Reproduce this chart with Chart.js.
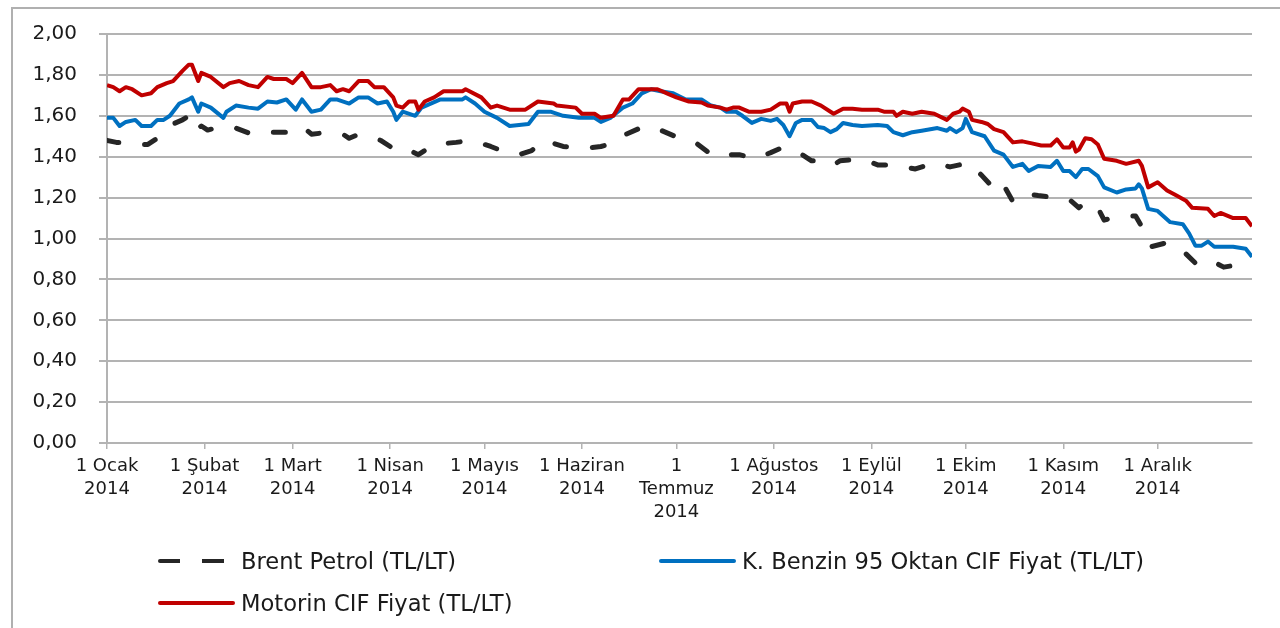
<!DOCTYPE html>
<html>
<head>
<meta charset="utf-8">
<script src="https://cdn.jsdelivr.net/npm/chart.js@4.4.1/dist/chart.umd.min.js"></script>
<style>
  html, body { margin: 0; padding: 0; background: #fff; }
  #wrap { position: relative; width: 1280px; height: 628px; overflow: hidden; }
  #frame { position: absolute; left: 11px; top: 7px; width: 1400px; height: 800px;
           border-left: 2px solid #b0b0b0; border-top: 2px solid #b0b0b0; }
  #chartBox { position: absolute; left: 0; top: 0; width: 1280px; height: 628px; }
  .legend-item { position: absolute; display: flex; align-items: center; height: 26px;
                 font: 22.6px "DejaVu Sans", sans-serif; color: #1a1a1a; white-space: nowrap; }
  .legend-line { width: 77px; height: 4px; margin-right: 6px; border-radius: 2px; }
</style>
</head>
<body>
<div id="wrap">
  <div id="frame"></div>
  <div id="chartBox"><canvas id="fuelChart"></canvas></div>
  <div id="legend"></div>
</div>
<script>
document.addEventListener("DOMContentLoaded", () => {

    // Data (day of year 2014, value TL/LT)
    // ----------------------------------------------
    const monthDays   = [0, 31, 59, 90, 120, 151, 181, 212, 243, 273, 304, 334];
    const monthLabels = [
        ['1 Ocak', '2014'], ['1 Şubat', '2014'], ['1 Mart', '2014'], ['1 Nisan', '2014'],
        ['1 Mayıs', '2014'], ['1 Haziran', '2014'], ['1', 'Temmuz', '2014'], ['1 Ağustos', '2014'],
        ['1 Eylül', '2014'], ['1 Ekim', '2014'], ['1 Kasım', '2014'], ['1 Aralık', '2014']
    ];

    const brentDays   = [0, 3, 6, 9, 13, 17, 21, 24, 26, 28, 30, 32, 37, 41, 46, 52, 57, 62, 65, 71, 75, 77, 80, 87, 91,
                         92, 95, 99, 104, 111, 116, 122, 127, 131, 135, 139, 145, 151, 157, 162, 165, 171, 176, 182, 187,
                         193, 199, 201, 206, 211, 214, 216, 220, 224, 229, 231, 233, 240, 245, 250, 257, 263, 268, 274, 278,
                         281, 284, 288, 292, 296, 301, 306, 309, 311, 315, 317, 322, 327, 330, 332, 337, 342, 346, 350, 355, 359];
    const brentValues = [1.48, 1.47, 1.47, 1.46, 1.46, 1.50, 1.56, 1.58, 1.60, 1.53, 1.55, 1.53, 1.55, 1.54, 1.51, 1.52, 1.52, 1.55, 1.51, 1.52, 1.51, 1.49, 1.51, 1.48, 1.44,
                         1.45, 1.44, 1.41, 1.46, 1.47, 1.48, 1.45, 1.42, 1.41, 1.43, 1.48, 1.45, 1.44, 1.45, 1.47, 1.51, 1.55, 1.53, 1.49, 1.47,
                         1.40, 1.41, 1.41, 1.39, 1.42, 1.44, 1.42, 1.42, 1.38, 1.38, 1.36, 1.38, 1.39, 1.36, 1.36, 1.34, 1.37, 1.35, 1.37, 1.31,
                         1.26, 1.29, 1.18, 1.22, 1.21, 1.20, 1.19, 1.15, 1.18, 1.15, 1.09, 1.11, 1.11, 1.03, 0.96, 0.98, 0.94, 0.88, 0.90, 0.86, 0.87];

    const benzinDays   = [0, 2, 4, 6, 9, 11, 14, 16, 18, 20, 23, 26, 27, 29, 30, 33, 37, 38, 41, 45, 48, 51, 54, 57, 60, 62, 65, 68, 71, 73, 77, 80, 83, 86, 89, 91, 92,
                          94, 98, 100, 106, 113, 114, 117, 120, 124, 128, 134, 137, 141, 145, 150, 155, 157, 160, 164, 167, 170, 173, 176, 180, 184,
                          189, 192, 195, 197, 200, 202, 205, 208, 211, 213, 215, 217, 219, 221, 224, 226, 228, 230, 232, 234, 237, 240, 245, 248, 250,
                          253, 256, 259, 264, 267, 268, 270, 272, 273, 275, 279, 282, 285, 288, 291, 293, 296, 300, 302, 304, 306, 308, 310, 312, 315,
                          317, 321, 324, 327, 328, 329, 331, 334, 338, 342, 344, 346, 348, 350, 352, 358, 362, 364];
    const benzinValues = [1.59, 1.59, 1.55, 1.57, 1.58, 1.55, 1.55, 1.58, 1.58, 1.60, 1.66, 1.68, 1.69, 1.62, 1.66, 1.64, 1.59, 1.62, 1.65, 1.64, 1.635, 1.67, 1.665, 1.68, 1.63, 1.68, 1.62, 1.63, 1.68, 1.68, 1.66, 1.69, 1.69, 1.66, 1.67, 1.62, 1.58,
                          1.62, 1.60, 1.64, 1.68, 1.68, 1.69, 1.66, 1.62, 1.59, 1.55, 1.56, 1.62, 1.62, 1.60, 1.59, 1.59, 1.57, 1.59, 1.64, 1.66, 1.71, 1.73, 1.72, 1.71, 1.68,
                          1.68, 1.65, 1.64, 1.62, 1.62, 1.60, 1.565, 1.585, 1.575, 1.585, 1.555, 1.50, 1.565, 1.58, 1.58, 1.545, 1.54, 1.52, 1.535, 1.565, 1.555, 1.55, 1.555, 1.55, 1.52,
                          1.505, 1.52, 1.527, 1.54, 1.527, 1.54, 1.52, 1.54, 1.585, 1.52, 1.50, 1.43, 1.41, 1.35, 1.365, 1.33, 1.355, 1.35, 1.38, 1.33, 1.33, 1.30, 1.34, 1.34, 1.305,
                          1.25, 1.225, 1.24, 1.245, 1.265, 1.245, 1.145, 1.135, 1.08, 1.07, 1.025, 0.965, 0.965, 0.985, 0.96, 0.96, 0.95, 0.91];

    const motorinDays   = [0, 2, 4, 6, 8, 11, 14, 16, 19, 21, 24, 26, 27, 29, 30, 33, 37, 39, 42, 45, 48, 51, 53, 57, 59, 62, 65, 68, 71, 73, 75, 77, 80, 83, 85, 88, 91, 92,
                           94, 96, 98, 99, 101, 104, 107, 113, 114, 119, 122, 124, 128, 133, 137, 142, 143, 149, 151, 155, 157, 161, 164, 166, 169, 172, 175, 178, 181,
                           185, 189, 191, 195, 197, 199, 201, 204, 208, 211, 214, 216, 217, 218, 221, 224, 227, 230, 231, 234, 237, 240, 245, 247, 250, 251, 253,
                           256, 259, 263, 267, 269, 271, 272, 274, 275, 278, 280, 282, 285, 288, 291, 294, 297, 300, 302, 304, 306, 307, 308, 309, 311, 313, 315,
                           317, 321, 324, 328, 329, 331, 334, 337, 340, 343, 345, 350, 352, 354, 358, 362, 364];
    const motorinValues = [1.75, 1.74, 1.72, 1.74, 1.73, 1.70, 1.71, 1.74, 1.76, 1.77, 1.82, 1.85, 1.85, 1.77, 1.81, 1.79, 1.74, 1.76, 1.77, 1.75, 1.74, 1.79, 1.78, 1.78, 1.76, 1.81, 1.74, 1.74, 1.75, 1.72, 1.73, 1.72, 1.77, 1.77, 1.74, 1.74, 1.69, 1.65,
                           1.64, 1.67, 1.67, 1.63, 1.67, 1.69, 1.72, 1.72, 1.73, 1.69, 1.64, 1.65, 1.63, 1.63, 1.67, 1.66, 1.65, 1.64, 1.61, 1.61, 1.59, 1.60, 1.68, 1.68, 1.73, 1.73, 1.73, 1.71, 1.69,
                           1.67, 1.665, 1.65, 1.64, 1.63, 1.64, 1.64, 1.62, 1.62, 1.63, 1.66, 1.66, 1.62, 1.66, 1.67, 1.67, 1.65, 1.62, 1.61, 1.635, 1.635, 1.63, 1.63, 1.62, 1.62, 1.60, 1.62,
                           1.61, 1.62, 1.61, 1.58, 1.61, 1.62, 1.635, 1.62, 1.58, 1.57, 1.56, 1.535, 1.52, 1.47, 1.475, 1.465, 1.455, 1.455, 1.485, 1.445, 1.445, 1.47, 1.425, 1.435, 1.49, 1.485, 1.46,
                           1.39, 1.38, 1.365, 1.38, 1.355, 1.25, 1.275, 1.235, 1.21, 1.185, 1.15, 1.145, 1.11, 1.125, 1.10, 1.10, 1.06];

    const toPoints = (days, values) => days.map((d, i) => ({ x: d, y: values[i] }));


    // Styles
    // ----------------------------------------------
    const fontFamily = '"DejaVu Sans", sans-serif';
    const textColor  = '#1a1a1a';
    const gridColor  = '#b3b3b3';

    const series = [
        { label: 'Brent Petrol (TL/LT)',               color: '#262626', dash: [12, 26], days: brentDays,   values: brentValues,   order: 2 },
        { label: 'K. Benzin 95 Oktan CIF Fiyat (TL/LT)', color: '#0070c0', dash: [],       days: benzinDays,  values: benzinValues,  order: 1 },
        { label: 'Motorin CIF Fiyat (TL/LT)',          color: '#c00000', dash: [],       days: motorinDays, values: motorinValues, order: 0 }
    ];


    // Line Chart
    // ----------------------------------------------
    new Chart(document.getElementById('fuelChart'), {
        type: 'line',
        data: {
            datasets: series.map(s => ({
                label: s.label,
                data: toPoints(s.days, s.values),
                borderColor: s.color,
                backgroundColor: s.color,
                borderWidth: s.dash.length ? 5 : 4,
                borderDash: s.dash,
                borderCapStyle: s.dash.length ? 'round' : 'butt',
                borderJoinStyle: 'round',
                pointRadius: 0,
                tension: 0,
                order: s.order
            }))
        },
        options: {
            responsive: true,
            maintainAspectRatio: false,
            animation: false,
            devicePixelRatio: 1,
            layout: { padding: { top: 33, right: 28, left: 0, bottom: 0 } },
            plugins: {
                legend: { display: false },
                tooltip: { enabled: false }
            },
            scales: {
                x: {
                    type: 'linear',
                    min: 0,
                    max: 364,
                    afterBuildTicks: scale => { scale.ticks = monthDays.map(v => ({ value: v })); },
                    afterFit: scale => { scale.height = 185; },
                    grid: {
                        drawOnChartArea: false,
                        drawTicks: true,
                        tickLength: 6,
                        color: gridColor,
                        lineWidth: 1.5
                    },
                    border: { display: true, color: gridColor, width: 2 },
                    ticks: {
                        autoSkip: false,
                        maxRotation: 0,
                        minRotation: 0,
                        padding: 6,
                        color: textColor,
                        font: { family: fontFamily, size: 18, lineHeight: 1.28 },
                        callback: (value, index) => monthLabels[index]
                    }
                },
                y: {
                    min: 0,
                    max: 2,
                    afterFit: scale => { scale.width = 107; },
                    grid: {
                        color: gridColor,
                        lineWidth: 2,
                        drawTicks: true,
                        tickLength: 8
                    },
                    border: { display: true, color: gridColor, width: 2 },
                    ticks: {
                        stepSize: 0.2,
                        padding: 22,
                        color: textColor,
                        font: { family: fontFamily, size: 20 },
                        callback: value => value.toFixed(2).replace('.', ',')
                    }
                }
            }
        }
    });


    // Legend (two rows, as in the original)
    // ----------------------------------------------
    const legendSpots = [ { left: 158, top: 548 }, { left: 659, top: 548 }, { left: 158, top: 590 } ];
    const legendBox = document.getElementById('legend');
    series.forEach((s, i) => {
        const item = document.createElement('div');
        item.className = 'legend-item';
        item.style.left = legendSpots[i].left + 'px';
        item.style.top  = legendSpots[i].top + 'px';
        const line = document.createElement('span');
        line.className = 'legend-line';
        line.style.background = s.dash.length
            ? `repeating-linear-gradient(90deg, ${s.color} 0 22px, transparent 22px 44px)`
            : s.color;
        const text = document.createElement('span');
        text.textContent = s.label;
        item.appendChild(line);
        item.appendChild(text);
        legendBox.appendChild(item);
    });

});
</script>
</body>
</html>
